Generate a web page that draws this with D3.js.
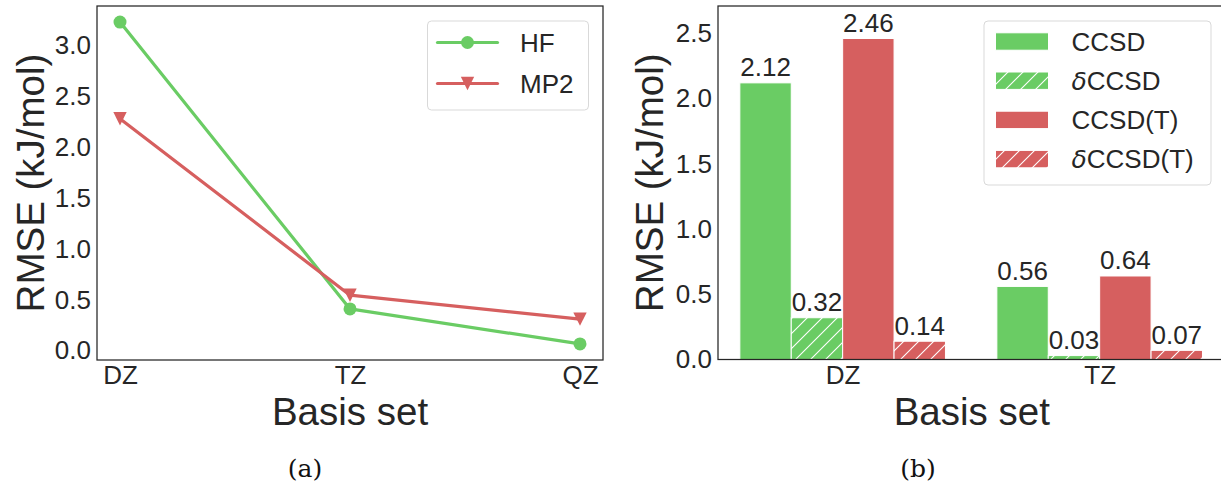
<!DOCTYPE html>
<html><head><meta charset="utf-8">
<script src="https://cdn.jsdelivr.net/npm/d3@7"></script>
<style>html,body{margin:0;padding:0;background:#fff;}svg{display:block;}</style>
</head><body>
<script>
// ---- data ----
const lineCategories = ["DZ", "TZ", "QZ"];
const hfValues = [3.23, 0.41, 0.066];
const mp2Values = [2.28, 0.545, 0.31];
const lineSeries = ["HF", "MP2"];
const leftYTicks = [0.0, 0.5, 1.0, 1.5, 2.0, 2.5, 3.0];

const barCategories = ["DZ", "TZ"];
const barSeries = ["CCSD", "δCCSD", "CCSD(T)", "δCCSD(T)"];
const ccsdValues = [2.12, 0.56];
const dCcsdValues = [0.32, 0.03];
const ccsdTValues = [2.46, 0.64];
const dCcsdTValues = [0.14, 0.07];
const rightYTicks = [0.0, 0.5, 1.0, 1.5, 2.0, 2.5];
const captions = ["(a)", "(b)"];

const GREEN = "#6acc64", RED = "#d65f5f", TXT = "#262626";
const FONT = "'Liberation Sans', Arial, sans-serif";

const W = 1221, H = 489;
const svg = d3.select("body").append("svg").attr("width", W).attr("height", H)
  .style("background", "#fff");

const defs = svg.append("defs");
function hatch(id, color) {
  const p = defs.append("pattern").attr("id", id).attr("patternUnits", "userSpaceOnUse")
    .attr("width", 15).attr("height", 15);
  p.append("rect").attr("width", 15).attr("height", 15).attr("fill", color);
  p.append("path").attr("d", "M0,15L15,0M-4,4L4,-4M11,19L19,11")
    .attr("stroke", "#fff").attr("stroke-width", 1.1);
}
hatch("hg", GREEN); hatch("hr", RED);

// ================= Panel (a) =================
const A = {l: 97, r: 603, t: 6, b: 360};
const allLine = hfValues.concat(mp2Values);
const lmin = d3.min(allLine), lmax = d3.max(allLine), lpad = 0.05 * (lmax - lmin);
const xA = d3.scaleLinear().domain([-0.1, lineCategories.length - 1 + 0.1]).range([A.l, A.r]);
const yA = d3.scaleLinear().domain([lmin - lpad, lmax + lpad]).range([A.b, A.t]);

const gA = svg.append("g");
gA.append("g").attr("transform", `translate(${A.l},0)`)
  .call(d3.axisLeft(yA).tickValues(leftYTicks).tickFormat(d3.format(".1f")).tickSize(0).tickPadding(6))
  .call(g => { g.select(".domain").remove();
    g.selectAll("text").attr("font-family", FONT).attr("font-size", 26).attr("fill", TXT); });
gA.append("g").attr("transform", `translate(0,${A.b})`)
  .call(d3.axisBottom(xA).tickValues(d3.range(lineCategories.length)).tickFormat(i => lineCategories[i]).tickSize(0).tickPadding(6))
  .call(g => { g.select(".domain").remove();
    g.selectAll("text").attr("font-family", FONT).attr("font-size", 26).attr("fill", TXT); });

const lineGen = d3.line().x((d, i) => xA(i)).y(d => yA(d));
const series = [
  {name: lineSeries[0], vals: hfValues, color: GREEN, marker: "circle"},
  {name: lineSeries[1], vals: mp2Values, color: RED, marker: "tri"}
];
const triPath = s => `M${-s},${-s}L${s},${-s}L0,${s}Z`;
series.forEach(s => {
  gA.append("path").datum(s.vals).attr("d", lineGen).attr("fill", "none")
    .attr("stroke", s.color).attr("stroke-width", 3.2).attr("stroke-linejoin", "round");
  s.vals.forEach((v, i) => {
    if (s.marker === "circle")
      gA.append("circle").attr("cx", xA(i)).attr("cy", yA(v)).attr("r", 6.5).attr("fill", s.color);
    else
      gA.append("path").attr("transform", `translate(${xA(i)},${yA(v)})`).attr("d", triPath(6.7)).attr("fill", s.color);
  });
});
gA.append("rect").attr("x", A.l).attr("y", A.t).attr("width", A.r - A.l).attr("height", A.b - A.t)
  .attr("fill", "none").attr("stroke", TXT).attr("stroke-width", 1.25);
// legend
const LA = gA.append("g");
LA.append("rect").attr("x", 427.5).attr("y", 21).attr("width", 161).attr("height", 89).attr("rx", 4)
  .attr("fill", "#fff").attr("fill-opacity", 0.8).attr("stroke", "#d9d9d9").attr("stroke-width", 1);
series.forEach((s, k) => {
  const cy = 42.5 + k * 41;
  LA.append("line").attr("x1", 437.5).attr("x2", 497.5).attr("y1", cy).attr("y2", cy)
    .attr("stroke", s.color).attr("stroke-width", 3.2).attr("stroke-linecap", "round");
  if (s.marker === "circle") LA.append("circle").attr("cx", 467.5).attr("cy", cy).attr("r", 6.5).attr("fill", s.color);
  else LA.append("path").attr("transform", `translate(467.5,${cy})`).attr("d", triPath(6.7)).attr("fill", s.color);
  LA.append("text").attr("x", 520).attr("y", cy + 9.5).text(s.name)
    .attr("font-family", FONT).attr("font-size", 26).attr("fill", TXT);
});
gA.append("text").attr("transform", `translate(44,${(A.t + A.b) / 2}) rotate(-90)`).attr("text-anchor", "middle")
  .text("RMSE (kJ/mol)").attr("font-family", FONT).attr("font-size", 38.5).attr("fill", TXT);
gA.append("text").attr("x", (A.l + A.r) / 2).attr("y", 425).attr("text-anchor", "middle")
  .text("Basis set").attr("font-family", FONT).attr("font-size", 38.5).attr("fill", TXT);

// ================= Panel (b) =================
const B = {l: 718, r: 1225.6, t: 6, b: 359.5};
const barWidth = 0.2;
const xB = d3.scaleLinear().domain([-0.485, barCategories.length - 1 + 0.49]).range([B.l, B.r]);
const yB = d3.scaleLinear().domain([0, 2.709]).range([B.b, B.t]);
const gB = svg.append("g");
gB.append("g").attr("transform", `translate(${B.l},0)`)
  .call(d3.axisLeft(yB).tickValues(rightYTicks).tickFormat(d3.format(".1f")).tickSize(0).tickPadding(6))
  .call(g => { g.select(".domain").remove();
    g.selectAll("text").attr("font-family", FONT).attr("font-size", 26).attr("fill", TXT); });
gB.append("g").attr("transform", `translate(0,${B.b})`)
  .call(d3.axisBottom(xB).tickValues(d3.range(barCategories.length)).tickFormat(i => barCategories[i]).tickSize(0).tickPadding(6))
  .call(g => { g.select(".domain").remove();
    g.selectAll("text").attr("font-family", FONT).attr("font-size", 26).attr("fill", TXT); });

const barData = [
  {name: barSeries[0], vals: ccsdValues, fill: GREEN},
  {name: barSeries[1], vals: dCcsdValues, fill: "url(#hg)"},
  {name: barSeries[2], vals: ccsdTValues, fill: RED},
  {name: barSeries[3], vals: dCcsdTValues, fill: "url(#hr)"}
];
const bars = gB.append("g");
barData.forEach((s, k) => {
  s.vals.forEach((v, i) => {
    const x0 = i - 0.4 + k * barWidth;
    bars.append("rect").attr("x", xB(x0)).attr("width", xB(x0 + barWidth) - xB(x0))
      .attr("y", yB(v)).attr("height", yB(0) - yB(v))
      .attr("fill", s.fill).attr("stroke", "#fff").attr("stroke-width", 1);
    gB.append("text").attr("x", xB(x0 + barWidth / 2)).attr("y", yB(v) - 6.5).attr("text-anchor", "middle")
      .text(d3.format(".2f")(v)).attr("font-family", FONT).attr("font-size", 26).attr("fill", TXT);
  });
});
gB.append("rect").attr("x", B.l).attr("y", B.t).attr("width", B.r - B.l).attr("height", B.b - B.t)
  .attr("fill", "none").attr("stroke", TXT).attr("stroke-width", 1.25);
// legend
const LB = gB.append("g");
LB.append("rect").attr("x", 984).attr("y", 21).attr("width", 227).attr("height", 164).attr("rx", 4)
  .attr("fill", "#fff").attr("fill-opacity", 0.8).attr("stroke", "#d9d9d9").attr("stroke-width", 1);
barData.forEach((s, k) => {
  const cy = 41.5 + k * 39.2;
  LB.append("rect").attr("x", 995.5).attr("y", cy - 8.7).attr("width", 53).attr("height", 17.4)
    .attr("fill", s.fill).attr("stroke", "#fff").attr("stroke-width", 1);
  const t = LB.append("text").attr("x", 1071.5).attr("y", cy + 9.3)
    .attr("font-family", FONT).attr("font-size", 26).attr("fill", TXT);
  if (s.name.startsWith("δ")) {
    t.append("tspan").text("δ").attr("font-family", "'DejaVu Sans', sans-serif").attr("font-style", "italic").attr("font-size", 25);
    t.append("tspan").text(s.name.slice(1));
  } else t.text(s.name);
});
gB.append("text").attr("transform", `translate(663,${(B.t + B.b) / 2}) rotate(-90)`).attr("text-anchor", "middle")
  .text("RMSE (kJ/mol)").attr("font-family", FONT).attr("font-size", 38.5).attr("fill", TXT);
gB.append("text").attr("x", (B.l + B.r) / 2).attr("y", 425).attr("text-anchor", "middle")
  .text("Basis set").attr("font-family", FONT).attr("font-size", 38.5).attr("fill", TXT);

// captions
const capFont = "'DejaVu Serif', 'Liberation Serif', serif";
svg.append("text").attr("x", 305).attr("y", 477).attr("text-anchor", "middle").text(captions[0])
  .attr("font-family", capFont).attr("font-size", 25).attr("font-weight", 300).attr("fill", "#111");
svg.append("text").attr("x", 918).attr("y", 477).attr("text-anchor", "middle").text(captions[1])
  .attr("font-family", capFont).attr("font-size", 25).attr("font-weight", 300).attr("fill", "#111");
</script>
</body></html>
